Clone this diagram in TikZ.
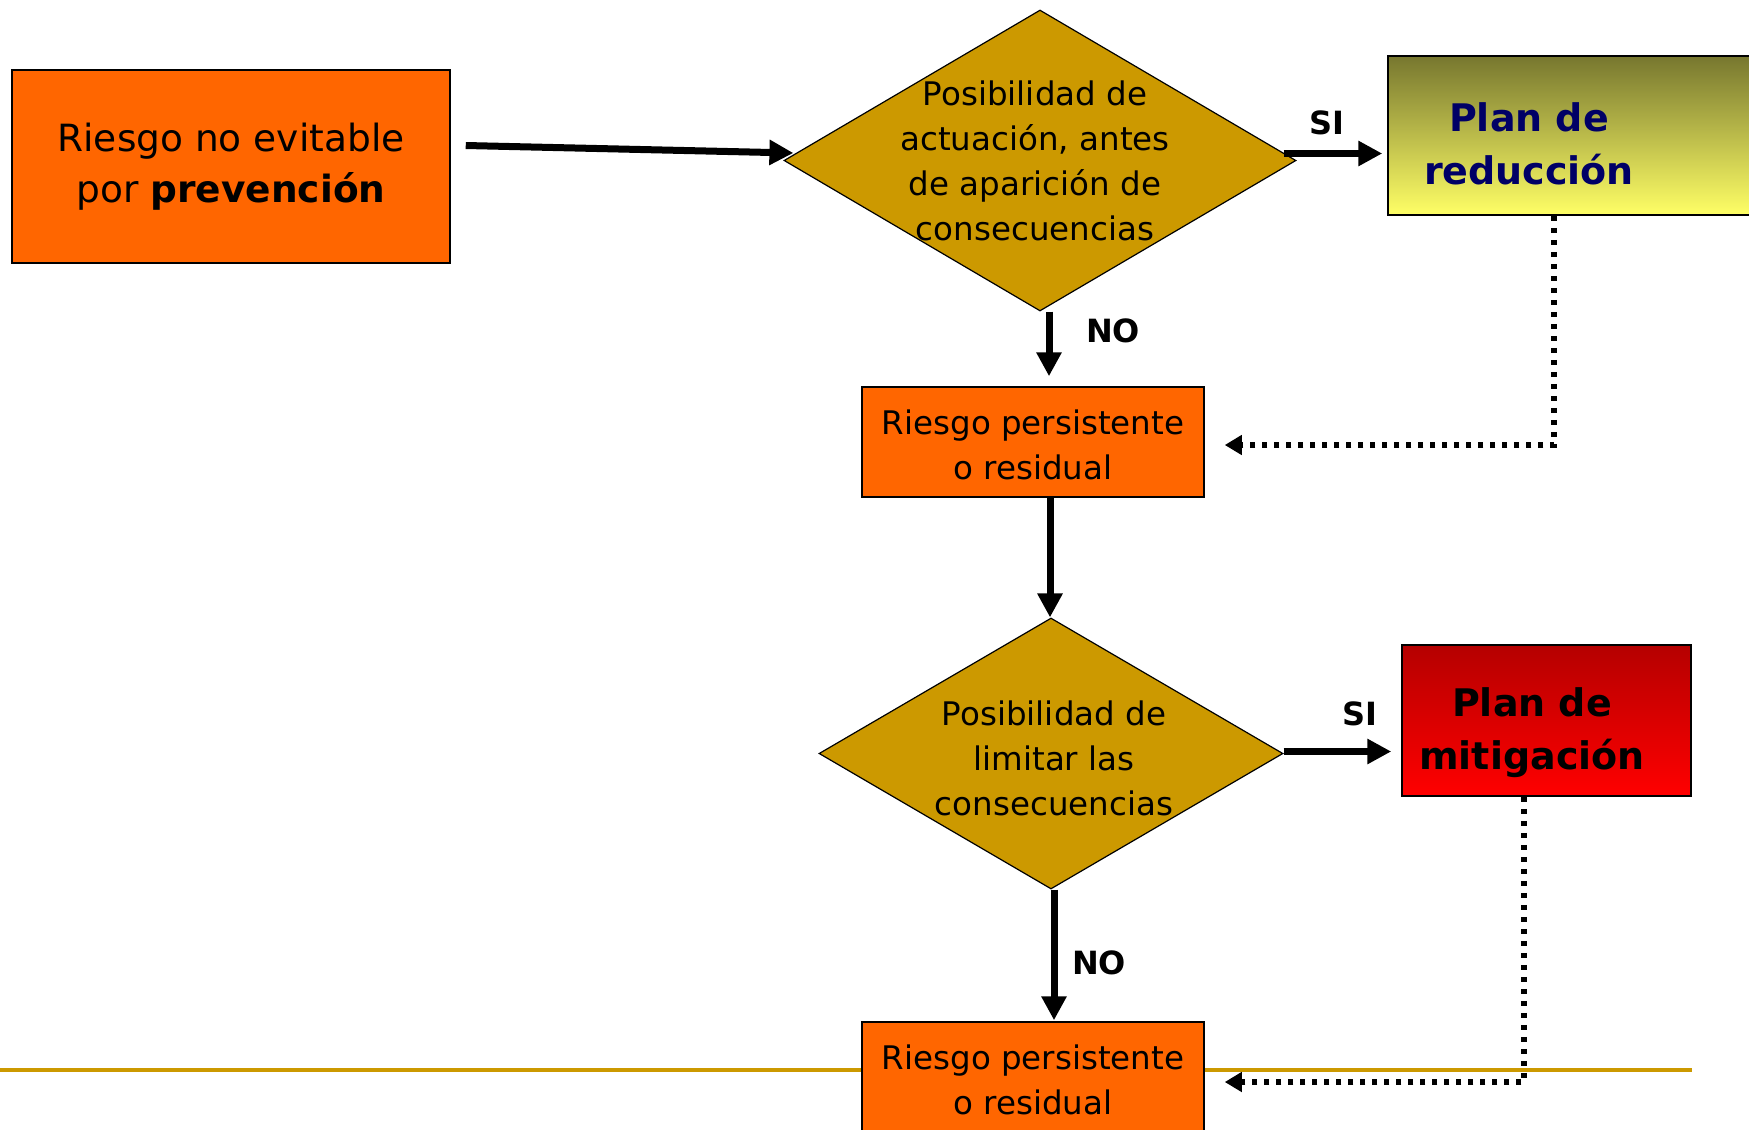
\documentclass[tikz,border=0pt]{standalone}
\usepackage{fontspec}
\setmainfont{DejaVu Sans}
\usetikzlibrary{shapes.geometric,arrows.meta,calc}
\definecolor{orangebox}{HTML}{FF6600}
\definecolor{gold}{HTML}{CC9900}
\definecolor{olivetop}{HTML}{77772F}
\definecolor{lemon}{HTML}{FFFF66}
\definecolor{darkred}{HTML}{B50000}
\definecolor{brightred}{HTML}{FF0000}
\definecolor{navytext}{HTML}{000066}

\begin{document}
\begin{tikzpicture}[x=1pt,y=-1pt,
  box/.style={draw=black, line width=1.5pt, fill=orangebox, rectangle, inner sep=0pt},
  dia/.style={draw=black, line width=1.2pt, fill=gold, diamond, inner sep=0pt},
  planbox/.style={draw=black, line width=1.5pt, rectangle, inner sep=0pt},
  flow/.style={line width=7pt, -{Triangle[length=24pt,width=24pt]}},
  back/.style={line width=5.5pt, dash pattern=on 5.5pt off 6.5pt, -{Triangle[length=17pt,width=19pt]}},
  lbl/.style={font=\fontsize{32}{38}\selectfont\bfseries},
  bodytxt/.style={align=center, font=\fontsize{32.5}{45}\selectfont},
  plantxt/.style={align=center, font=\fontsize{38}{53}\selectfont\bfseries}
]
\clip (0,0) rectangle (1749,1130);
\fill[white] (0,0) rectangle (1749,1130);

% rule across the page
\draw[gold, line width=4pt] (0,1070) -- (1692,1070);

% boxes and decisions
\node[box, minimum width=438pt, minimum height=193pt, align=center,
      font=\fontsize{37.5}{51}\selectfont] (b1) at (231,166.5)
      {Riesgo no evitable\\por \textbf{prevención}};

\node[dia, minimum width=512pt, minimum height=301pt] (d1) at (1040,160.5) {};
\node[bodytxt] at (1035,161) {Posibilidad de\\actuación, antes\\de aparición de\\consecuencias};

\node[planbox, minimum width=372pt, minimum height=159pt,
      top color=olivetop, bottom color=lemon] (p1) at (1574,135.5) {};
\node[plantxt, text=navytext] at (1529,144) {Plan de\\reducción};

\node[box, minimum width=342pt, minimum height=110pt] (r1) at (1033,442) {};
\node[bodytxt] at (1033,445) {Riesgo persistente\\o residual};

\node[dia, minimum width=464pt, minimum height=271pt] (d2) at (1051,753.5) {};
\node[bodytxt] at (1054,758) {Posibilidad de\\limitar las\\consecuencias};

\node[planbox, minimum width=289pt, minimum height=151pt,
      top color=darkred, bottom color=brightred] (p2) at (1546.5,720.5) {};
\node[plantxt, text=black] at (1532,733) {Plan de\\mitigación};

\node[box, minimum width=342pt, minimum height=110pt] (r2) at (1033,1077) {};
\node[bodytxt] at (1033,1080) {Riesgo persistente\\o residual};

% main flow
\draw[flow] ($(b1.east)+(15,-21)$) -- ($(d1.west)+(10,-7.5)$);

\coordinate (s1) at ($(d1.east)+(-13,-7)$);
\draw[flow, shorten >=5pt] (s1) -- (s1 -| p1.west);
\node[lbl] at (1327,123) {SI};

\coordinate (n1) at ($(d1.south)+(9,0)$);
\draw[flow, shorten >=10pt] (n1) -- (n1 |- r1.north);
\node[lbl] at (1113,331) {NO};

\coordinate (n2) at ($(r1.south)+(17,0)$);
\draw[flow] (n2) -- (n2 |- d2.north);

\coordinate (s2) at ($(d2.east)+(0,-2)$);
\draw[flow, shorten >=10pt] (s2) -- (s2 -| p2.west);
\node[lbl] at (1360,714) {SI};

\coordinate (n3) at ($(d2.south)+(3,0)$);
\draw[flow, shorten >=1pt] (n3) -- (n3 |- r2.north);
\node[lbl] at (1099,963) {NO};

% return paths
\coordinate (k1) at (1554,445);
\draw[back] (p1.south -| k1) |- ($(r1.east)+(20,3)$);

\coordinate (k2) at (1524,1082);
\draw[back] (p2.south -| k2) |- ($(r2.east)+(20,5)$);
\end{tikzpicture}
\end{document}
